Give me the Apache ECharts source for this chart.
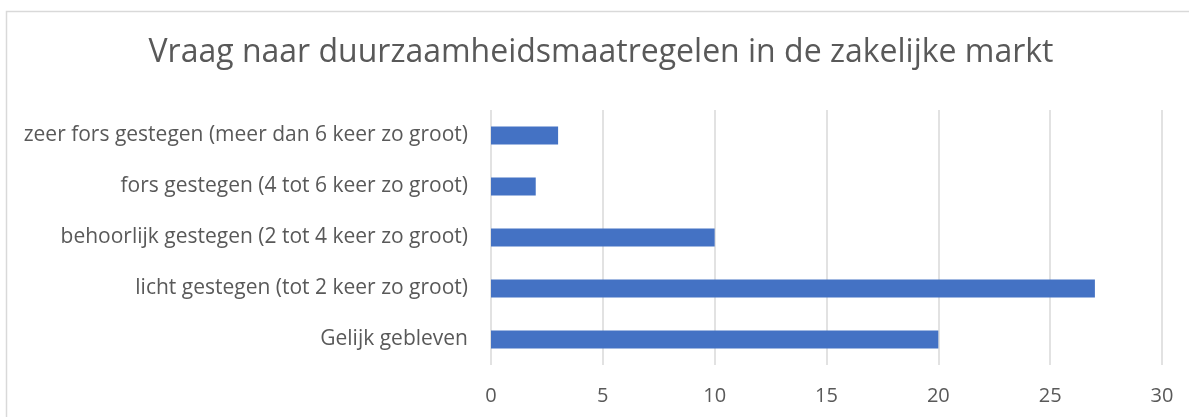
<!DOCTYPE html>
<html>
<head>
<meta charset="utf-8">
<script src="https://cdn.jsdelivr.net/npm/echarts@6/dist/echarts.min.js"></script>
<style>
  html, body { margin: 0; padding: 0; background: #fff; }
  #chart-container { width: 1189px; height: 417px; }
</style>
</head>
<body>
<div id="chart-container"></div>
<script>
// data, bottom to top as drawn on the category axis
var categories = [
    'Gelijk gebleven',
    'licht gestegen (tot 2 keer zo groot)',
    'behoorlijk gestegen (2 tot 4 keer zo groot)',
    'fors gestegen (4 tot 6 keer zo groot)',
    'zeer fors gestegen (meer dan 6 keer zo groot)'
];
var values = [20, 27, 10, 2, 3];
var xTicks = [0, 5, 10, 15, 20, 25, 30];

var dom = document.getElementById('chart-container');
var myChart = echarts.init(dom, null, { renderer: 'canvas' });

var textColor = '#595959';
var font = 'Open Sans';

var option = {
    animation: false,
    textStyle: { fontFamily: font },
    title: {
        text: 'Vraag naar duurzaamheidsmaatregelen in de zakelijke markt',
        left: 596,
        textAlign: 'center',
        top: 32,
        textStyle: { fontSize: 32, fontWeight: 'normal', color: textColor, fontFamily: font }
    },
    graphic: [{
        type: 'rect',
        shape: { x: 6.5, y: 11.5, width: 1300, height: 500 },
        style: { fill: 'none', stroke: '#d9d9d9', lineWidth: 1.5 },
        silent: true
    }],
    grid: { left: 491, right: 27, top: 110, bottom: 52 },
    xAxis: {
        type: 'value',
        min: xTicks[0],
        max: xTicks[xTicks.length - 1],
        interval: 5,
        axisLine: { show: false },
        axisTick: { show: false },
        axisLabel: { color: textColor, fontSize: 20, margin: 21, fontFamily: font },
        splitLine: { lineStyle: { color: '#d9d9d9', width: 1.5 } }
    },
    yAxis: {
        type: 'category',
        data: categories,
        axisLine: { show: false },
        axisTick: { show: false },
        axisLabel: { color: textColor, fontSize: 21, margin: 23, fontFamily: font }
    },
    series: [{
        type: 'bar',
        data: values,
        barWidth: 18,
        itemStyle: { color: '#4472c4' }
    }]
};

myChart.setOption(option);
window.addEventListener('resize', myChart.resize);
</script>
</body>
</html>
